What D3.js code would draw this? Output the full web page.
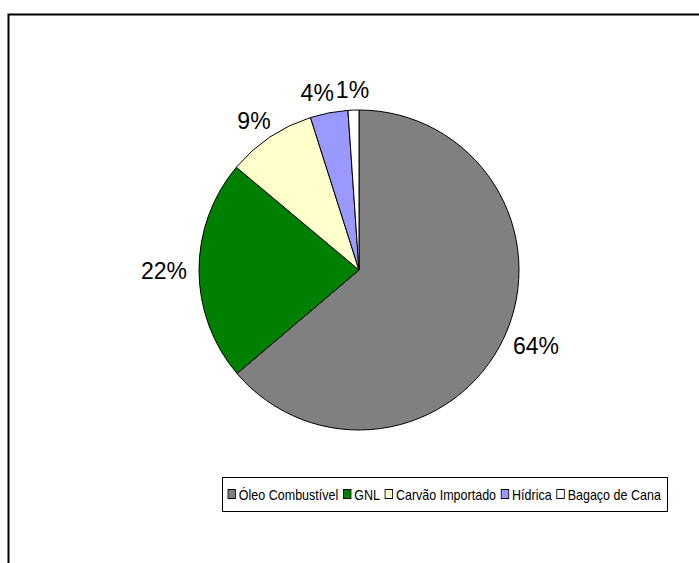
<!DOCTYPE html>
<html><head><meta charset="utf-8">
<script src="https://cdn.jsdelivr.net/npm/d3@7"></script>
<style>body{margin:0;background:#fff}svg{display:block}text{font-family:"Liberation Sans",Arial,sans-serif;fill:#000}</style>
</head><body><svg id="c" width="699" height="563"></svg>
<script>
const categories = ["Óleo Combustível", "GNL", "Carvão Importado", "Hídrica", "Bagaço de Cana"];
const values = [63.8, 22.3, 9.0, 3.8, 1.1];
const labels = ["64%", "22%", "9%", "4%", "1%"];
const colors = ["#808080", "#008000", "#FFFFCC", "#9999FF", "#FFFFFF"];

const svg = d3.select("#c");
svg.append("rect").attr("x", 8.5).attr("y", 14.5).attr("width", 720).attr("height", 600)
  .attr("fill", "#fff").attr("stroke", "#000").attr("stroke-width", 2);

const cx = 359, cy = 270, R = 160;
const g = svg.append("g").attr("transform", `translate(${cx},${cy})`);
const data = categories.map((c, i) => ({c, v: values[i], l: labels[i], col: colors[i]}));
const pie = d3.pie().value(d => d.v).sort(null);
const arc = d3.arc().innerRadius(0).outerRadius(R);
const arcs = pie(data);
g.selectAll("path").data(arcs).join("path").attr("d", arc)
  .attr("fill", d => d.data.col).attr("stroke", "#000").attr("stroke-width", 1);

const fs = 23, off = 12;
const lbl = arcs.map(d => {
  const a = (d.startAngle + d.endAngle) / 2;
  const t = g.append("text").text(d.data.l).attr("font-size", fs).attr("text-anchor", "middle");
  const w = t.node().getComputedTextLength();
  const h = fs * 0.72;
  const r = R + off;
  const x = Math.sin(a) * r + Math.sin(a) * w / 2;
  const y = -Math.cos(a) * r - Math.cos(a) * h / 2;
  return {t, w, h, x, y};
});
for (let i = lbl.length - 1; i > 0; i--) {
  const A = lbl[i - 1], B = lbl[i];
  const vOverlap = Math.abs(A.y - B.y) < (A.h + B.h) / 2 + 2;
  const right = A.x + A.w / 2, left = B.x - B.w / 2;
  if (vOverlap && right > left - 2) A.x -= right - (left - 2);
}
lbl.forEach(L => L.t.attr("x", L.x).attr("y", L.y + L.h / 2));

// legend
const lx0 = 222, ly0 = 477, lw = 445, lh = 34;
svg.append("rect").attr("x", lx0 + 0.5).attr("y", ly0 + 0.5).attr("width", lw).attr("height", lh)
  .attr("fill", "#fff").attr("stroke", "#000").attr("stroke-width", 1);
const lg = svg.append("g");
const lfs = 15;
let x = 0;
data.forEach(d => {
  const it = lg.append("g");
  it.append("rect").attr("x", x).attr("y", -4.5).attr("width", 9).attr("height", 9)
    .attr("fill", d.col).attr("stroke", "#000").attr("stroke-width", 1);
  const t = it.append("text").attr("x", x + 13).attr("y", 5.5).attr("font-size", lfs).text(d.c);
  x += 13 + t.node().getComputedTextLength() + 6;
});
const total = x - 6;
const avail = lw - 12;
const sx = Math.min(1, avail / total);
lg.attr("transform", `translate(${lx0 + (lw - total * sx) / 2},${ly0 + lh / 2}) scale(${sx},1)`);
</script></body></html>
